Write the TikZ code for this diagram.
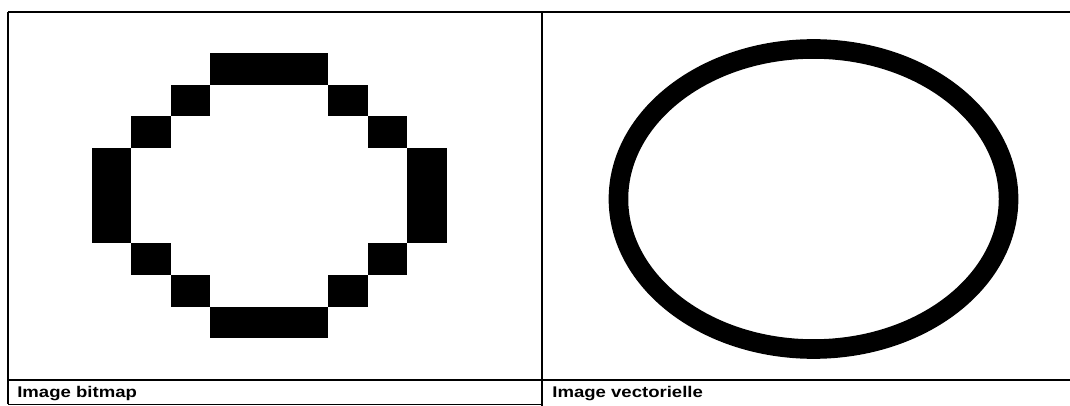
\documentclass[tikz,border=0pt]{standalone}
\usepackage{fontspec}
\setmainfont{Liberation Sans}
\usetikzlibrary{positioning}

\begin{document}
\begin{tikzpicture}[x=0.025cm, y=-0.025cm, font=\fontsize{11}{13}\selectfont\bfseries]
  \definecolor{ink}{HTML}{000000}
  \tikzset{
    rule/.style={draw=ink, line width=1.3pt},
    caption/.style={anchor=base west, text=ink, inner sep=0pt, xscale=1.2},
    pixel/.style={fill=ink}
  }
  \useasboundingbox[fill=white] (0,0) rectangle (1070,406);

  % table rules
  \draw[rule] (8,12) -- (1070,12);
  \draw[rule] (8,12) -- (8,404);
  \draw[rule] (542,12) -- (542,406);
  \draw[rule] (8,380) -- (1070,380);
  \draw[draw=ink, line width=0.6pt] (8,404) -- (542,404);

  % bitmap circle: col/row/width/height in cells
  \foreach \c/\r/\w/\h in {3/0/3/1, 2/1/1/1, 6/1/1/1, 1/2/1/1, 7/2/1/1,
                           0/3/1/3, 8/3/1/3, 1/6/1/1, 7/6/1/1, 2/7/1/1,
                           6/7/1/1, 3/8/3/1}
    \fill[pixel] ({92+\c*39.4},{53+\r*31.7}) rectangle ++({\w*39.4},{\h*31.7});

  % vector circle
  \draw[ink, line width=0.49cm] (813.5,199) ellipse [x radius=4.875cm, y radius=3.75cm];

  \node[caption] (bitmap) at (17,397) {Image bitmap};
  \node[caption] (vector) at (552,397) {Image vectorielle};
\end{tikzpicture}
\end{document}
